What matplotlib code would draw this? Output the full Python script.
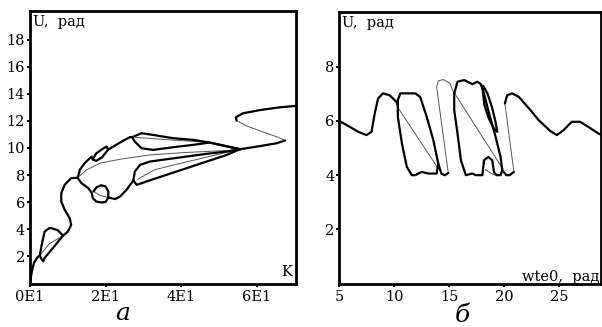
import matplotlib
matplotlib.use('Agg')
import matplotlib.pyplot as plt

plt.rcParams['font.family'] = ['DejaVu Serif']

# ---- panel a: U(K) ----
a_start_x = [0, 0.5, 1.06, 2.0, 2.56, 3.2, 3.88, 5.0, 5.63, 7.4, 8.72, 10.04, 10.9, 10.49, 9.17, 8.27, 8.27, 9.17, 10.9, 12.6]
a_start_y = [0.05, 0.9, 1.52, 1.95, 2.05, 3.0, 3.84, 4.07, 4.09, 3.92, 3.53, 3.84, 4.34, 4.83, 5.44, 6.05, 6.67, 7.28, 7.78, 7.8]
a_tri_x = [2.56, 3.17, 3.5, 3.88, 6.08, 7.84, 8.72]
a_tri_y = [2.05, 1.76, 1.63, 1.89, 2.62, 3.23, 3.53]
a_chord_x = [2.56, 5.0, 8.72]
a_chord_y = [2.05, 2.9, 3.53]

a_up_x = [12.6, 13.2, 14.5, 16.3, 16.6, 17.5, 19.0, 20.7, 22.0, 24.2, 26.4, 27.0]
a_up_y = [7.8, 8.4, 8.9, 9.37, 9.15, 9.05, 9.3, 9.9, 10.1, 10.47, 10.8, 10.8]
a_ell_x = [16.6, 17.5, 19.0, 20.2, 20.7]
a_ell_y = [9.15, 9.6, 9.9, 10.1, 9.9]

a_loop1_top_x = [27.0, 29.5, 32.6, 37.9, 43.1, 47.5, 55.5]
a_loop1_top_y = [10.8, 11.09, 10.96, 10.72, 10.6, 10.4, 9.91]
a_loop1_bot_x = [27.0, 27.7, 29.5, 32.6, 37.9, 43.1, 47.5, 55.5]
a_loop1_bot_y = [10.8, 10.47, 9.98, 9.86, 10.06, 10.23, 10.4, 9.91]
a_loop1_mid_x = [27.0, 37.0, 48.0]
a_loop1_mid_y = [10.8, 10.6, 10.4]

a_low_x = [12.6, 13.6, 15.4, 16.3, 16.6, 17.5, 18.8, 20.0, 20.7, 20.7, 20.0, 18.8, 17.6, 16.8]
a_low_y = [7.8, 7.41, 7.04, 6.7, 6.3, 6.05, 5.98, 6.02, 6.35, 6.8, 7.15, 7.25, 7.1, 6.8]
a_circ_chord_x = [16.8, 18.5, 20.7]
a_circ_chord_y = [6.8, 6.5, 6.35]
a_low2_x = [20.7, 22.5, 23.8, 25.5, 26.9, 27.3]
a_low2_y = [6.35, 6.23, 6.42, 6.91, 7.45, 7.6]
a_loop2_top_x = [27.3, 27.7, 29.1, 31.7, 36.1, 41.4, 46.7, 52.0, 55.5]
a_loop2_top_y = [7.6, 8.26, 8.76, 9.0, 9.17, 9.37, 9.57, 9.74, 9.91]
a_loop2_bot_x = [27.3, 28.2, 30.8, 36.1, 41.4, 46.7, 52.0, 55.5]
a_loop2_bot_y = [7.6, 7.28, 7.53, 8.02, 8.51, 9.0, 9.49, 9.91]
a_loop2_in_x = [28.5, 33.0, 41.0, 55.5]
a_loop2_in_y = [7.7, 8.4, 8.95, 9.91]

a_long_x = [12.6, 14.97, 18.5, 23.8, 31.7, 40.5, 55.5]
a_long_y = [7.8, 8.39, 8.88, 9.17, 9.49, 9.66, 9.86]

a_tail_x = [55.5, 59.9, 65.2, 67.4]
a_tail_y = [9.91, 10.1, 10.35, 10.55]
a_s_x = [67.4, 65.5, 62.5, 57.2, 54.6]
a_s_y = [10.55, 10.8, 11.09, 11.63, 12.02]
a_top_x = [54.6, 54.4, 56.3, 60.8, 66.0, 70.0]
a_top_y = [12.02, 12.27, 12.56, 12.8, 13.0, 13.1]

# ---- panel b: U(wte0) ----
b_wave_x = [5.0, 5.97, 6.72, 7.48, 7.93, 8.23, 8.53, 8.98, 9.58, 10.19, 10.3]
b_wave_y = [6.0, 5.78, 5.6, 5.48, 5.6, 6.28, 6.83, 7.02, 6.95, 6.71, 6.6]
b_diag1_x = [10.24, 14.01]
b_diag1_y = [6.55, 4.24]
b_box1_x = [10.33, 10.55, 11.91, 12.36, 12.96, 13.56, 14.01, 13.86, 13.11, 12.5, 11.91, 11.6, 11.15, 10.7, 10.33, 10.33]
b_box1_y = [6.77, 7.02, 7.02, 6.89, 6.15, 5.29, 4.43, 4.06, 4.06, 4.12, 4.0, 4.0, 4.3, 5.17, 6.15, 6.77]
b_link_x = [14.01, 14.3, 14.62, 14.92]
b_link_y = [4.43, 4.05, 4.0, 4.08]
b_rise_x = [14.92, 13.86, 14.01, 14.47, 15.07, 15.31]
b_rise_y = [4.08, 7.26, 7.48, 7.53, 7.39, 7.14]
b_diag2_x = [15.31, 19.9]
b_diag2_y = [7.14, 4.22]
b_box2_x = [15.46, 15.76, 16.37, 17.12, 17.57, 17.88, 18.17, 18.63, 19.23, 19.68, 19.83, 19.68, 19.3, 19.08, 18.92, 18.56, 18.17, 18.02, 17.42, 17.12, 16.52, 16.07, 15.76, 15.46, 15.46]
b_box2_y = [7.02, 7.45, 7.51, 7.36, 7.45, 7.36, 7.02, 6.28, 5.41, 4.67, 4.18, 4.0, 4.0, 4.12, 4.55, 4.67, 4.55, 4.0, 4.0, 4.06, 4.0, 4.55, 5.54, 6.4, 7.02]
b_lens_x = [18.02, 18.2, 18.6, 19.1, 19.38, 19.2, 18.9, 18.5, 18.1]
b_lens_y = [7.26, 6.6, 6.1, 5.7, 5.6, 6.0, 6.5, 7.0, 7.3]
b_arch_x = [18.3, 18.9, 19.5]
b_arch_y = [4.2, 4.05, 4.0]
b_end_x = [19.83, 20.2, 20.5, 20.89]
b_end_y = [4.18, 4.0, 4.0, 4.12]
b_rise2_x = [20.89, 20.07]
b_rise2_y = [4.12, 6.65]
b_right_x = [20.07, 20.28, 20.73, 21.34, 22.4, 23.15, 24.2, 24.8, 25.41, 26.16, 26.92, 27.67, 28.57, 28.8]
b_right_y = [6.65, 6.95, 7.02, 6.89, 6.4, 6.03, 5.63, 5.48, 5.66, 5.97, 5.97, 5.78, 5.54, 5.5]

THICK = dict(color='black', lw=1.6, solid_capstyle='round')
THIN = dict(color='#555555', lw=0.7)

fig = plt.figure(figsize=(6.02, 3.27), dpi=100)
ax1 = fig.add_axes([0.0498, 0.133, 0.4419, 0.833])
ax2 = fig.add_axes([0.5636, 0.133, 0.4344, 0.830])

for xs, ys in [(a_chord_x, a_chord_y), (a_loop1_mid_x, a_loop1_mid_y), (a_circ_chord_x, a_circ_chord_y),
               (a_loop2_in_x, a_loop2_in_y), (a_long_x, a_long_y), (a_s_x, a_s_y)]:
    ax1.plot(xs, ys, **THIN)
for xs, ys in [(a_start_x, a_start_y), (a_tri_x, a_tri_y), (a_up_x, a_up_y), (a_ell_x, a_ell_y),
               (a_loop1_top_x, a_loop1_top_y), (a_loop1_bot_x, a_loop1_bot_y),
               (a_low_x, a_low_y), (a_low2_x, a_low2_y),
               (a_loop2_top_x, a_loop2_top_y), (a_loop2_bot_x, a_loop2_bot_y),
               (a_tail_x, a_tail_y), (a_top_x, a_top_y)]:
    ax1.plot(xs, ys, **THICK)

for xs, ys in [(b_diag1_x, b_diag1_y), (b_rise_x, b_rise_y), (b_diag2_x, b_diag2_y),
               (b_arch_x, b_arch_y), (b_rise2_x, b_rise2_y)]:
    ax2.plot(xs, ys, **THIN)
for xs, ys in [(b_wave_x, b_wave_y), (b_box1_x, b_box1_y), (b_link_x, b_link_y),
               (b_box2_x, b_box2_y), (b_lens_x, b_lens_y), (b_end_x, b_end_y), (b_right_x, b_right_y)]:
    ax2.plot(xs, ys, **THICK)

ax1.set_xlim(0, 70.3)
ax1.set_ylim(0, 20.1)
ax1.set_xticks([0, 20, 40, 60])
ax1.set_xticklabels(['0E1', '2E1', '4E1', '6E1'])
ax1.set_yticks(range(2, 19, 2))

ax2.set_xlim(5, 28.8)
ax2.set_ylim(0, 10.02)
ax2.set_xticks([5, 10, 15, 20, 25])
ax2.set_yticks([2, 4, 6, 8])

for ax in (ax1, ax2):
    for s in ax.spines.values():
        s.set_linewidth(2)
    ax.tick_params(direction='out', length=2, width=1.5, labelsize=10.5, pad=1.5)
    ax.tick_params(axis='x', pad=3)

ax1.text(0.01, 0.985, 'U,  рад', transform=ax1.transAxes, ha='left', va='top', fontsize=10.5)
ax1.text(0.985, 0.015, 'K', transform=ax1.transAxes, ha='right', va='bottom', fontsize=10.5)
ax2.text(0.01, 0.985, 'U,  рад', transform=ax2.transAxes, ha='left', va='top', fontsize=10.5)
ax2.text(0.995, 0.0, 'wte0,  рад', transform=ax2.transAxes, ha='right', va='bottom', fontsize=10.5)

fig.text(123 / 602, 1 - 313 / 327, 'а', ha='center', va='center', fontsize=18, style='italic')
fig.text(462 / 602, 1 - 315 / 327, 'б', ha='center', va='center', fontsize=18, style='italic')

fig.savefig('out.png', dpi=100)
